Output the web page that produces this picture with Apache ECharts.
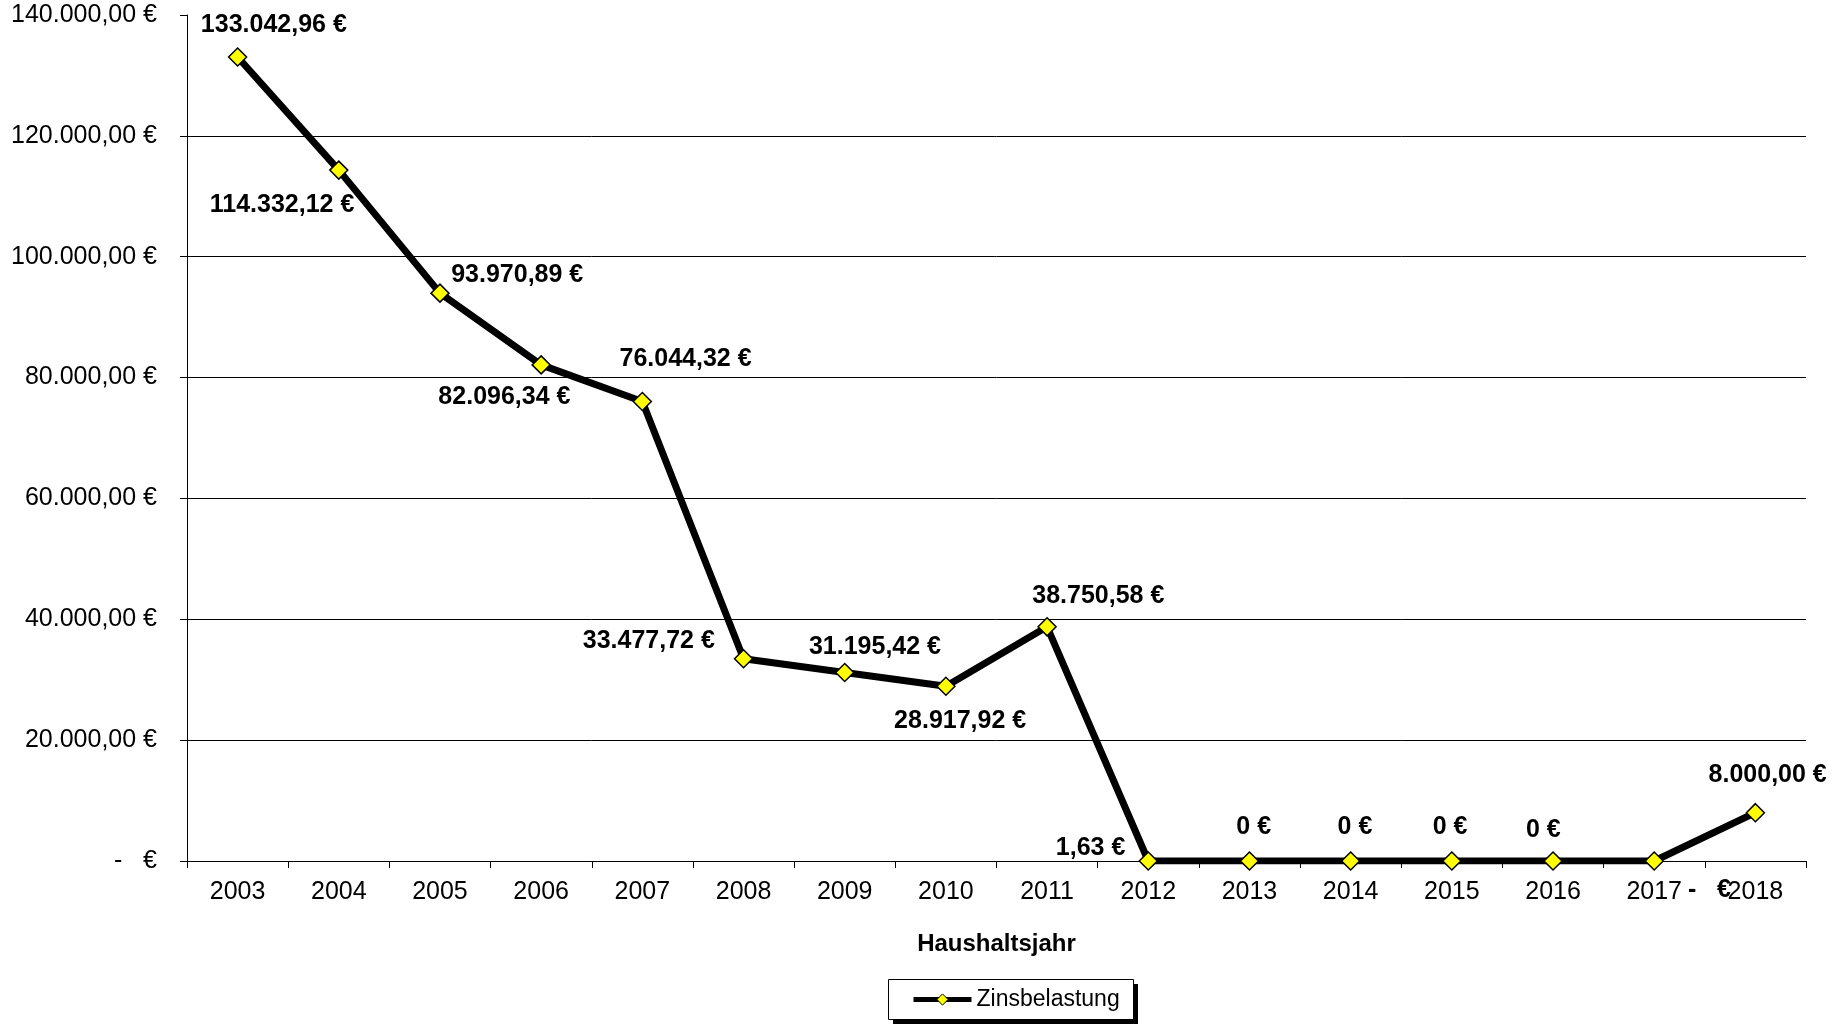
<!DOCTYPE html>
<html>
<head>
<meta charset="utf-8">
<script src="https://cdn.jsdelivr.net/npm/echarts@6/dist/echarts.min.js"></script>
<style>
html,body{margin:0;padding:0;background:#fff;}
#chart{width:1839px;height:1026px;}
</style>
</head>
<body>
<div id="chart"></div>
<script>
const years = ['2003','2004','2005','2006','2007','2008','2009','2010','2011','2012','2013','2014','2015','2016','2017','2018'];
const zinsbelastung = [133042.96, 114332.12, 93970.89, 82096.34, 76044.32, 33477.72, 31195.42, 28917.92, 38750.58, 1.63, 0, 0, 0, 0, 0, 8000];
// data-label texts for points that use a special zero format
const zeroLabelTexts = ['0 €', '0 €', '0 €', '0 €', '-   €'];
const zeroLabelStart = 10;
// label offsets [dx, dy] from each point
const labelOffsets = [[37,-31],[-56,36],[78,-17],[-36,33],[44,-42],[-94,-17],[31,-25],[15,36],[52,-30],[-57,-12],[5,-33],[5,-33],[-1,-33],[-9,-30],[56,30],[13,-37]];
const yMin = 0, yMax = 140000, yStep = 20000;

function fmtDE(v) {
  const parts = v.toFixed(2).split('.');
  const intPart = parts[0].replace(/\B(?=(\d{3})+(?!\d))/g, '.');
  return intPart + ',' + parts[1] + ' €';
}

const FONT = '"Liberation Sans", Arial, sans-serif';
const SYM = 18;

const seriesData = zinsbelastung.map((v, i) => {
  let text = fmtDE(v);
  if (i >= zeroLabelStart && i < zeroLabelStart + zeroLabelTexts.length) text = zeroLabelTexts[i - zeroLabelStart];
  return {
    value: v,
    label: {
      position: [SYM / 2 + labelOffsets[i][0], SYM / 2 + labelOffsets[i][1]],
      align: 'center', verticalAlign: 'middle',
      formatter: text
    }
  };
});

const chart = echarts.init(document.getElementById('chart'), null, {renderer: 'canvas'});
const splitColors = [];
for (let v = yMin; v <= yMax; v += yStep) splitColors.push(v === yMax ? 'rgba(0,0,0,0)' : '#000000');

chart.setOption({
  animation: false,
  backgroundColor: '#ffffff',
  grid: { left: 187, right: 33, top: 15, bottom: 165, containLabel: false },
  graphic: [
    { type: 'rect', left: 893, top: 984, shape: { width: 245, height: 40 }, style: { fill: '#000' }, z: 1 },
    { type: 'rect', left: 888, top: 979, shape: { width: 245, height: 40 }, style: { fill: '#fff', stroke: '#000', lineWidth: 1 }, z: 2 }
  ],
  xAxis: {
    type: 'category',
    data: years,
    boundaryGap: true,
    name: 'Haushaltsjahr',
    nameLocation: 'middle',
    nameGap: 71,
    nameTextStyle: { fontFamily: FONT, fontSize: 24, fontWeight: 'bold', color: '#000' },
    axisLine: { show: true, lineStyle: { color: '#000', width: 1 } },
    axisTick: { show: true, alignWithLabel: false, length: 7, lineStyle: { color: '#000' } },
    axisLabel: { fontFamily: FONT, fontSize: 25, color: '#000', margin: 19, interval: 0 },
    splitLine: { show: false }
  },
  yAxis: {
    type: 'value',
    min: yMin, max: yMax, interval: yStep,
    axisLine: { show: true, lineStyle: { color: '#000', width: 1 } },
    axisTick: { show: true, length: 7, lineStyle: { color: '#000' } },
    axisLabel: {
      fontFamily: FONT, fontSize: 25, color: '#000', margin: 30,
      formatter: v => v === 0 ? '-   €' : fmtDE(v)
    },
    splitLine: { show: true, lineStyle: { color: splitColors, width: 1 } }
  },
  legend: {
    data: ['Zinsbelastung'],
    left: 884, top: 980,
    orient: 'horizontal',
    padding: [8, 21, 8, 27],
    itemWidth: 58, itemHeight: 14, itemGap: 5,
    z: 5,
    textStyle: { fontFamily: FONT, fontSize: 23, color: '#000', padding: [0,0,0,0] },
    itemStyle: { color: '#FFFF00', borderColor: '#000', borderWidth: 1 },
    lineStyle: { color: '#000', width: 5 }
  },
  series: [{
    name: 'Zinsbelastung',
    type: 'line',
    data: seriesData,
    symbol: 'diamond',
    symbolSize: SYM,
    lineStyle: { color: '#000', width: 7 },
    itemStyle: { color: '#FFFF00', borderColor: '#000', borderWidth: 1.5 },
    label: {
      show: true,
      fontFamily: FONT, fontSize: 25, fontWeight: 'bold', color: '#000'
    },
    labelLayout: { hideOverlap: false },
    z: 3
  }]
});
</script>
</body>
</html>
